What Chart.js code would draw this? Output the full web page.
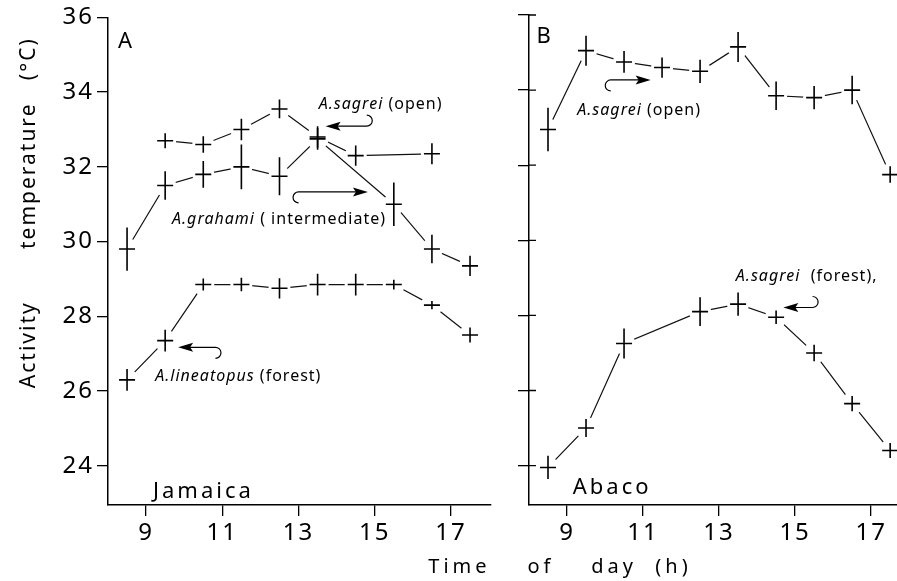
<!DOCTYPE html>
<html>
<head>
<meta charset="utf-8">
<script src="https://cdn.jsdelivr.net/npm/chart.js@4.4.1/dist/chart.umd.min.js"></script>
<style>
  body { margin: 0; background: #fff; }
  #wrap { position: relative; width: 897px; height: 581px; overflow: hidden; background: #fff; }
  canvas { position: absolute; top: 0; }
  #chartA { left: 0; }
  #chartB { left: 505px; }
  #xTitle {
    position: absolute; left: 360px; width: 400px; top: 556px;
    text-align: center; white-space: pre;
    font: 20px/20px 'Noto Sans', sans-serif; letter-spacing: 4px; color: #000;
  }
</style>
</head>
<body>
<div id="wrap">
  <canvas id="chartA" width="505" height="581"></canvas>
  <canvas id="chartB" width="392" height="581"></canvas>
  <div id="xTitle">Time    of    day  (h)</div>
</div>
<script>
// tick labels
var xTicks = [9, 11, 13, 15, 17];
var yTicks = [24, 26, 28, 30, 32, 34, 36];

// hours of observation (h)
var hoursAll = [8.5, 9.5, 10.5, 11.5, 12.5, 13.5, 14.5, 15.5, 16.5, 17.5];

// Jamaica
var jamSagreiHours = [9.5, 10.5, 11.5, 12.5, 13.5, 14.5, 16.5];
var jamSagreiTemp  = [32.7, 32.6, 33.0, 33.55, 32.8, 32.3, 32.35];
var jamSagreiSE    = [0.2, 0.22, 0.29, 0.25, 0.29, 0.27, 0.28];

var jamGrahamiHours = [8.5, 9.5, 10.5, 11.5, 12.5, 13.5, 15.5, 16.5, 17.5];
var jamGrahamiTemp  = [29.8, 31.5, 31.8, 32.0, 31.75, 32.75, 31.0, 29.8, 29.35];
var jamGrahamiSE    = [0.58, 0.38, 0.36, 0.6, 0.51, 0.29, 0.58, 0.38, 0.27];

var jamLineatopusTemp = [26.3, 27.35, 28.85, 28.85, 28.75, 28.85, 28.85, 28.85, 28.3, 27.5];
var jamLineatopusSE   = [0.29, 0.29, 0.16, 0.18, 0.27, 0.29, 0.29, 0.13, 0.11, 0.2];

// Abaco
var abaOpenTemp = [32.95, 35.05, 34.75, 34.6, 34.5, 35.15, 33.85, 33.8, 34.0, 31.75];
var abaOpenSE   = [0.58, 0.4, 0.29, 0.27, 0.31, 0.4, 0.38, 0.31, 0.38, 0.22];

var abaForestHours = [8.5, 9.5, 10.5, 12.5, 13.5, 14.5, 15.5, 16.5, 17.5];
var abaForestTemp  = [23.95, 25.0, 27.25, 28.1, 28.3, 27.95, 27.0, 25.65, 24.4];
var abaForestSE    = [0.31, 0.24, 0.4, 0.38, 0.31, 0.18, 0.22, 0.2, 0.2];

var FONT = "'Noto Sans', sans-serif";
Chart.defaults.font.family = FONT;
Chart.defaults.color = '#000';

function series(hours, temps, se) {
  return hours.map(function(h, i) { return {x: h, y: temps[i], se: se[i]}; });
}

function lineSet(data) {
  return {
    data: data, borderColor: '#111', borderWidth: 1.2,
    pointRadius: 0, pointHoverRadius: 0, fill: false, tension: 0
  };
}

// lines stop short of each marker, then the marker is a cross with its SE bar
var crossPlugin = {
  id: 'crosses',
  beforeDraw: function(chart) { chart.ctx.letterSpacing = '2px'; },
  afterDatasetsDraw: function(chart) {
    var ctx = chart.ctx, ys = chart.scales.y;
    ctx.save();
    ctx.fillStyle = '#fff';
    chart.data.datasets.forEach(function(ds, i) {
      chart.getDatasetMeta(i).data.forEach(function(pt) {
        ctx.beginPath(); ctx.arc(pt.x, pt.y, 11, 0, Math.PI * 2); ctx.fill();
      });
    });
    ctx.strokeStyle = '#000';
    ctx.lineWidth = 1.6;
    chart.data.datasets.forEach(function(ds, i) {
      chart.getDatasetMeta(i).data.forEach(function(pt, j) {
        var d = ds.data[j];
        ctx.beginPath();
        ctx.moveTo(pt.x - 8, pt.y); ctx.lineTo(pt.x + 8, pt.y);
        ctx.moveTo(pt.x, ys.getPixelForValue(d.y + d.se));
        ctx.lineTo(pt.x, ys.getPixelForValue(d.y - d.se));
        ctx.stroke();
      });
    });
    ctx.restore();
  }
};

function makeNotes(labels, arrows, insideTicks) {
  return {
    id: 'notes',
    afterDraw: function(chart) {
      var ctx = chart.ctx, xs = chart.scales.x, ys = chart.scales.y;
      ctx.save();
      ctx.fillStyle = '#000';
      ctx.strokeStyle = '#000';
      if (insideTicks) {
        ctx.lineWidth = 1.3;
        ctx.beginPath();
        yTicks.forEach(function(v) {
          var py = ys.getPixelForValue(v);
          ctx.moveTo(chart.chartArea.left, py); ctx.lineTo(chart.chartArea.left + 7, py);
        });
        ctx.stroke();
      }
      ctx.textAlign = 'left';
      ctx.textBaseline = 'alphabetic';
      labels.forEach(function(n) {
        var px = xs.getPixelForValue(n.x), py = ys.getPixelForValue(n.y);
        ctx.letterSpacing = n.spacing || '1px';
        if (n.sp) {
          ctx.font = 'italic ' + n.size + 'px ' + FONT;
          ctx.fillText(n.sp, px, py);
          px += ctx.measureText(n.sp).width;
        }
        ctx.font = n.size + 'px ' + FONT;
        ctx.fillText(n.rest, px, py);
      });
      ctx.lineWidth = 1.2;
      arrows.forEach(function(a) {
        var tx = xs.getPixelForValue(a.tip[0]), ty = ys.getPixelForValue(a.tip[1]);
        var ex = xs.getPixelForValue(a.tail[0]);
        var dir = ex > tx ? 1 : -1, r = 5.5;
        ctx.beginPath();
        ctx.moveTo(tx + dir * 10, ty); ctx.lineTo(ex, ty);
        if (a.hook === 'up') {
          ctx.arc(ex, ty - r, r, Math.PI / 2, -Math.PI / 2, dir > 0);
        } else {
          ctx.arc(ex, ty + r, r, -Math.PI / 2, Math.PI / 2, dir < 0);
        }
        ctx.stroke();
        ctx.beginPath();
        ctx.moveTo(tx, ty);
        ctx.lineTo(tx + dir * 15, ty - 4.5);
        ctx.lineTo(tx + dir * 12, ty);
        ctx.lineTo(tx + dir * 15, ty + 4.5);
        ctx.closePath();
        ctx.fill();
      });
      ctx.restore();
    }
  };
}

function axisOpts(min, max, ticks, extra) {
  var o = {
    type: 'linear', min: min, max: max,
    grid: { drawOnChartArea: false, drawTicks: true, tickLength: 11, color: '#000', lineWidth: 1.3 },
    border: { display: true, color: '#000', width: 1.5 },
    ticks: { font: { size: 24 }, color: '#000', padding: 3 },
    afterBuildTicks: function(s) { s.ticks = ticks.map(function(v) { return {value: v}; }); }
  };
  for (var k in extra) o[k] = extra[k];
  return o;
}

function makeChart(id, datasets, xMax, yExtra, padding, plugins) {
  return new Chart(document.getElementById(id), {
    type: 'line',
    data: { datasets: datasets },
    options: {
      responsive: false, animation: false, devicePixelRatio: 1,
      layout: { padding: padding },
      plugins: { legend: { display: false }, tooltip: { enabled: false } },
      scales: {
        x: axisOpts(8, xMax, xTicks, {
          afterFit: function(s) { s.height = 76; }
        }),
        y: axisOpts(22.95, 36, yTicks, yExtra)
      }
    },
    plugins: plugins
  });
}

var labelsA = [
  {rest: 'A', x: 8.26, y: 35.17, size: 22},
  {rest: 'Jamaica', x: 9.18, y: 23.15, size: 22, spacing: '3px'},
  {sp: 'A.sagrei', rest: ' (open)', x: 13.53, y: 33.55, size: 16},
  {sp: 'A.grahami', rest: ' ( intermediate)', x: 9.68, y: 30.48, size: 16},
  {sp: 'A.lineatopus', rest: ' (forest)', x: 9.24, y: 26.27, size: 16}
];
var arrowsA = [
  {tip: [13.71, 33.09], tail: [14.79, 33.09], hook: 'up'},
  {tip: [14.82, 31.33], tail: [13.0, 31.33], hook: 'down'},
  {tip: [9.84, 27.17], tail: [10.82, 27.17], hook: 'down'}
];
var labelsB = [
  {rest: 'B', x: 8.2, y: 35.25, size: 22},
  {rest: 'Abaco', x: 9.15, y: 23.23, size: 22, spacing: '3px'},
  {sp: 'A.sagrei', rest: ' (open)', x: 9.27, y: 33.33, size: 16},
  {sp: 'A.sagrei', rest: '  (forest),', x: 13.44, y: 28.91, size: 16}
];
var arrowsB = [
  {tip: [11.2, 34.27], tail: [10.15, 34.27], hook: 'down'},
  {tip: [14.69, 28.21], tail: [15.46, 28.21], hook: 'up'}
];

makeChart('chartA', [
  lineSet(series(jamSagreiHours, jamSagreiTemp, jamSagreiSE)),
  lineSet(series(jamGrahamiHours, jamGrahamiTemp, jamGrahamiSE)),
  lineSet(series(hoursAll, jamLineatopusTemp, jamLineatopusSE))
], 18.05, {
  afterFit: function(s) { s.width = 108; },
  title: {
    display: true, text: '             Activity       temperature   (°C)',
    font: { size: 21 }, color: '#000', padding: { top: 16, bottom: 0 }
  }
}, { top: 15, right: 14, left: 0, bottom: 0 }, [crossPlugin, makeNotes(labelsA, arrowsA, false)]);

makeChart('chartB', [
  lineSet(series(hoursAll, abaOpenTemp, abaOpenSE)),
  lineSet(series(abaForestHours, abaForestTemp, abaForestSE))
], 17.68, {
  afterFit: function(s) { s.width = 24; },
  ticks: { display: false }
}, { top: 15, right: 0, left: 0, bottom: 0 }, [crossPlugin, makeNotes(labelsB, arrowsB, true)]);
</script>
</body>
</html>
